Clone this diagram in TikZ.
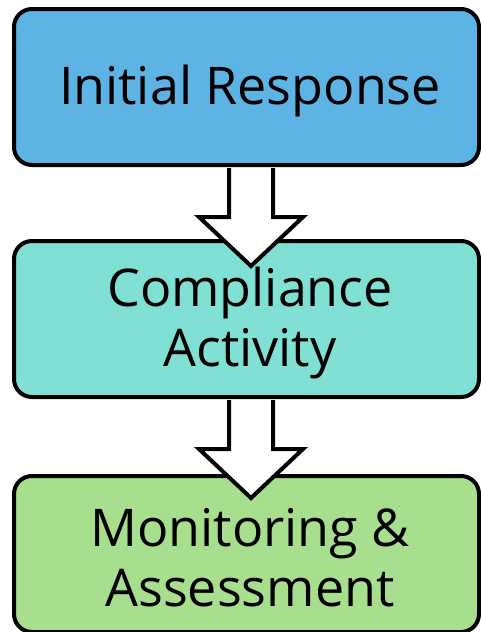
\documentclass[tikz,border=0pt]{standalone}
\usepackage{fontspec}
\setmainfont{Open Sans}
\usetikzlibrary{calc}
\definecolor{boxA}{HTML}{5DB3E3}
\definecolor{boxB}{HTML}{7FE0D3}
\definecolor{boxC}{HTML}{A8DF8E}
\tikzset{
  stagebox/.style={draw=black, line width=4pt, rounded corners=18pt, rectangle,
    minimum width=465pt, minimum height=156pt, inner sep=0pt},
  stagetext/.style={align=center, inner sep=0pt, font=\fontsize{52}{60}\selectfont},
  fatarrow/.style={fill=white},
  fatarrowline/.style={draw=black, line width=4pt, line join=miter},
}
\newcommand{\fatarrowpath}[1]{%
  ($(#1)+(-22,1)$) -- ($(#1)+(-22,50)$) -- ($(#1)+(-52,50)$) -- ($(#1)+(0,99)$) --
  ($(#1)+(52,50)$) -- ($(#1)+(22,50)$) -- ($(#1)+(22,1)$)}
\begin{document}
\begin{tikzpicture}[x=1pt,y=-1pt]
\useasboundingbox (0,0) rectangle (481,632);
\node[stagebox, fill=boxA] (a) at (246.5,87) {};
\node[stagetext] (at) at ($(a.center)+(3.5,4)$) {Initial Response};
\node[stagebox, fill=boxB] (b) at (246.5,319) {};
\node[stagetext] (bt) at ($(b.center)+(3.5,4)$) {Compliance\\Activity};
\coordinate (ab) at ($(a.south)+(4.5,0)$);
\fill[fatarrow] \fatarrowpath{ab};
\draw[fatarrowline] \fatarrowpath{ab};
\node[stagebox, fill=boxC] (c) at (246.5,554) {};
\node[stagetext] (ct) at ($(c.center)+(3.5,4)$) {Monitoring \&\\Assessment};
\coordinate (bc) at ($(b.south)+(4.5,0)$);
\fill[fatarrow] \fatarrowpath{bc};
\draw[fatarrowline] \fatarrowpath{bc};
\end{tikzpicture}
\end{document}
